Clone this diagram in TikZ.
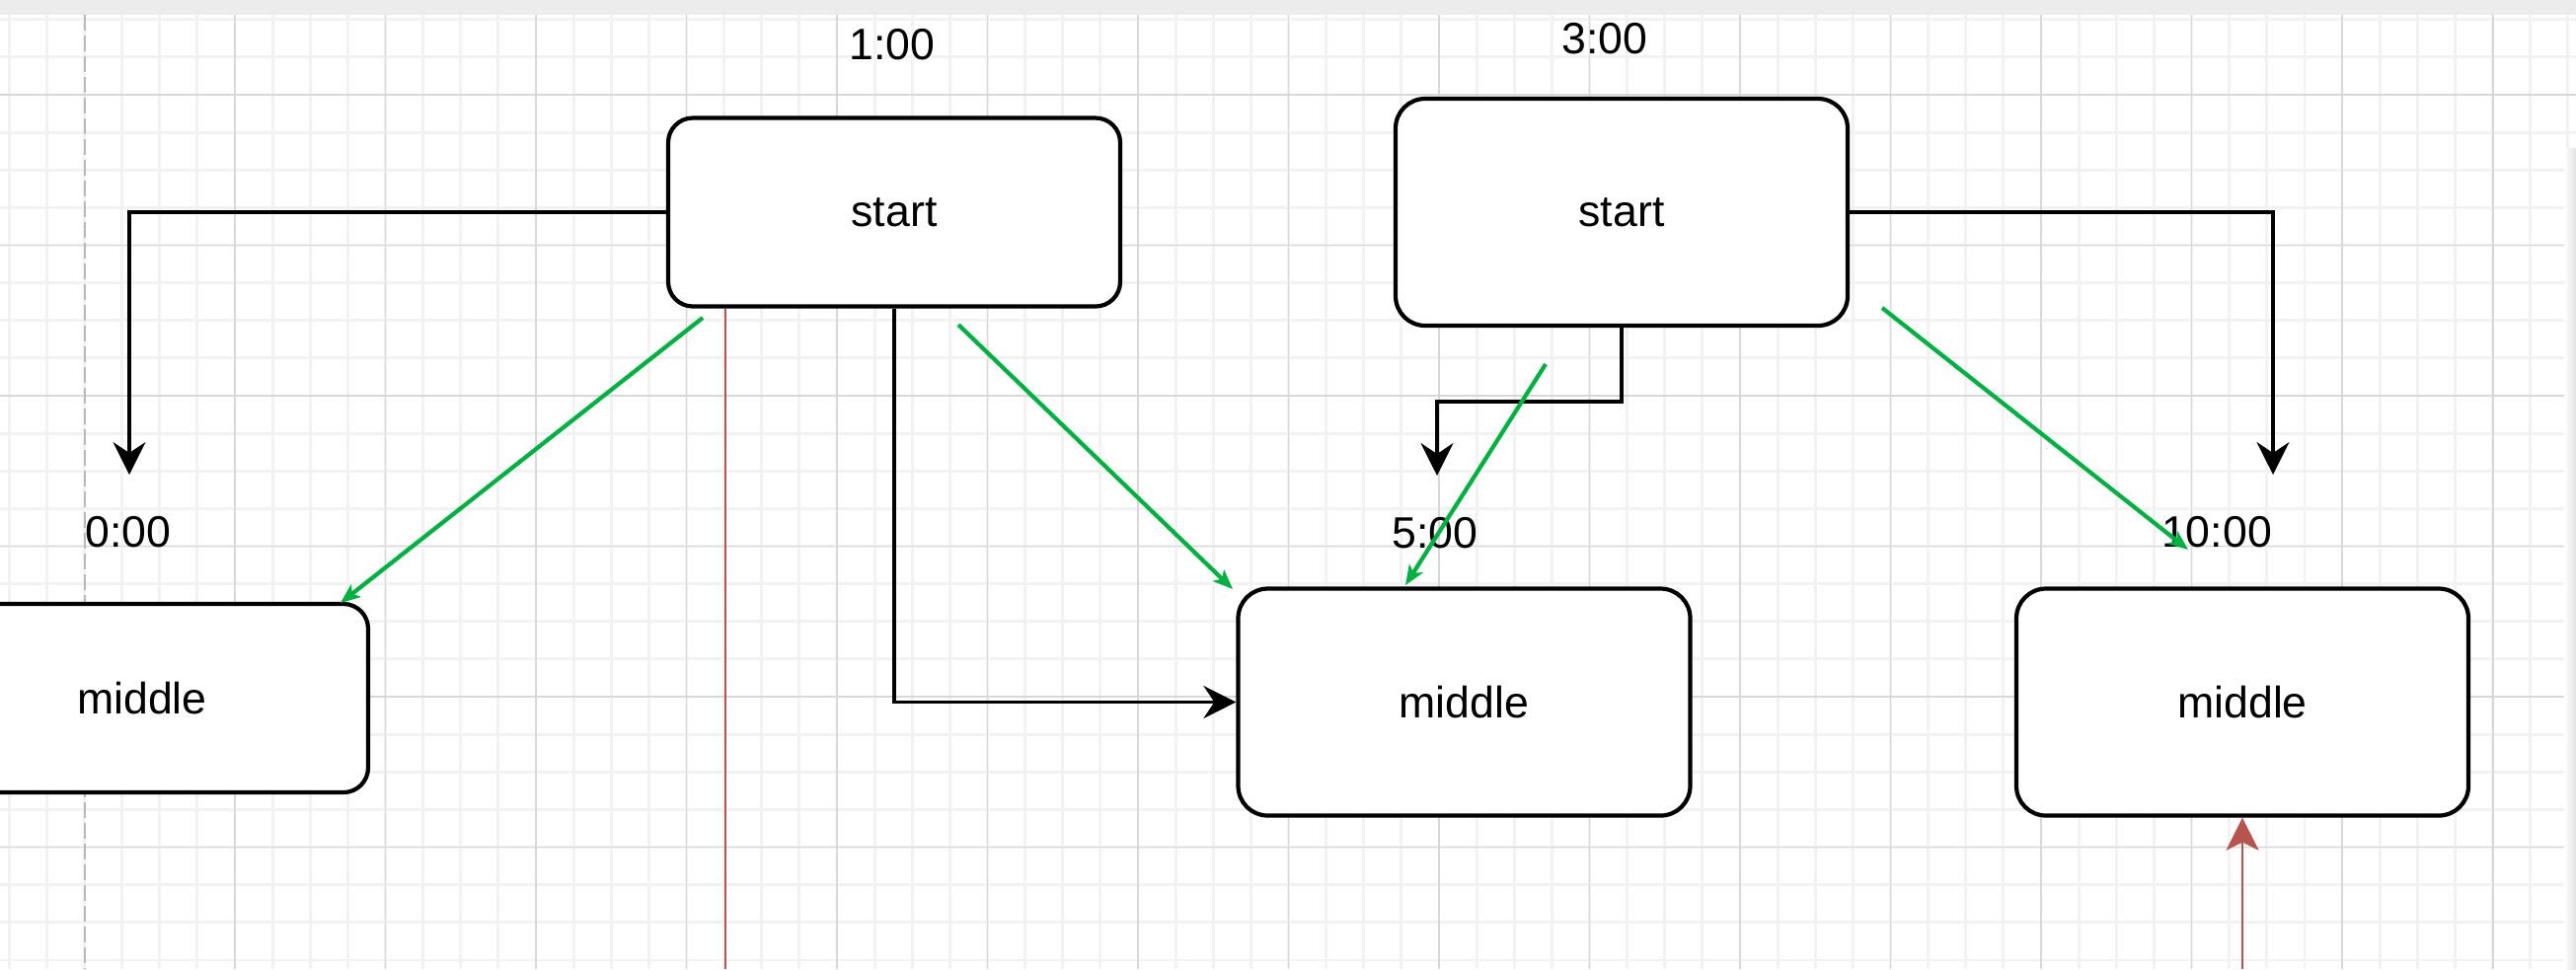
\documentclass[tikz,border=0pt]{standalone}
\usepackage{fontspec}
\setmainfont{Liberation Sans}
\usepackage{tikz}
\usetikzlibrary{arrows.meta,positioning,calc}
\definecolor{flowgreen}{RGB}{0,178,64}
\definecolor{flowred}{RGB}{184,84,80}
\definecolor{gridmin}{RGB}{242,242,242}
\definecolor{gridmaj}{RGB}{216,216,216}
\definecolor{topbar}{RGB}{236,236,236}

\begin{document}
\begin{tikzpicture}[
    x=0.1mm, y=-0.1mm,
    font=\fontsize{12.7}{15}\selectfont,
    box/.style={draw,line width=1.2pt,rounded corners=2.5mm,fill=white,
                minimum width=45.8mm,minimum height=19.1mm,inner sep=0pt},
    tall/.style={box,rounded corners=3mm,minimum height=23mm},
    tm/.style={inner sep=1pt},
    flow/.style={line width=1pt,-{Stealth[length=3.3mm,width=3.3mm,inset=1.1mm]}},
    jump/.style={flowgreen,line width=1.2pt,-{Stealth[length=2mm,width=1.6mm,inset=0.5mm]}},
    redln/.style={flowred,line width=0.8pt},
    redar/.style={redln,-{Stealth[length=3.3mm,width=3.3mm,inset=0.8mm]}},
  ]

  % canvas and grid
  \useasboundingbox (0,0) rectangle (2610,982);
  \clip (0,0) rectangle (2610,982);
  \fill[white] (0,0) rectangle (2610,982);
  \foreach \i in {0,...,68}
    \draw[gridmin,line width=0.8pt] ({9.25+38.125*\i},15) -- ({9.25+38.125*\i},982);
  \foreach \j in {0,...,25}
    \draw[gridmin,line width=0.8pt] (0,{19.75+38.125*\j}) -- (2610,{19.75+38.125*\j});
  \foreach \i in {0,...,15}
    \draw[gridmaj,line width=0.55pt] ({238+152.5*\i},15) -- ({238+152.5*\i},982);
  \foreach \j in {0,...,5}
    \draw[gridmaj,line width=0.55pt] (0,{96+152.5*\j}) -- (2610,{96+152.5*\j});
  \fill[topbar] (0,0) rectangle (2610,15);
  \shade[left color=white,right color=gray!22] (2598,150) rectangle (2610,982);
  \draw[gray!55,line width=0.7pt,dash pattern=on 1.6mm off 0.5mm] (86,15) -- (86,982);

  % red time markers
  \coordinate (r1) at (735,982);
  \coordinate (r2) at (2272,982);

  % states
  \node[box]  (start1) at (906,215)       {start};
  \node[tall] (start2) at (1643,215)      {start};
  \node[box]  (mid0)   at (144,707.5)     {middle};
  \node[tall] (mid5)   at (1483.5,711.5)  {middle};
  \node[tall] (mid10)  at (2272,711.5)    {middle};

  % times
  \node[tm] (t1)  at (904,45)   {1:00};
  \node[tm] (t3)  at (1626,39)  {3:00};
  \node[tm] (t0)  at (130,539)  {0:00};
  \node[tm] (t5)  at (1454,540) {5:00};
  \node[tm] (t10) at (2246,539) {10:00};

  % black edges
  \coordinate (e0)  at (131,481);
  \coordinate (k5)  at (1456,407);
  \coordinate (e5)  at (1456,482);
  \coordinate (e10) at (2303,481);
  \draw[flow] (start1.west) -| (e0);
  \draw[flow] (start1.south) |- (mid5.west);
  \draw[flow] (start2.south) |- (k5) -- (e5);
  \draw[flow] (start2.east) -| (e10);

  % red
  \draw[redln] (start1.south -| r1) -- (r1);
  \draw[redar] (r2) -- (mid10.south);

  % green jumps
  \coordinate (g1a) at (712,322);  \coordinate (g1b) at (345,611);
  \coordinate (g2a) at (971,329);  \coordinate (g2b) at (1249,597);
  \coordinate (g3a) at (1566,369); \coordinate (g3b) at (1424,593);
  \coordinate (g4a) at (1907,312); \coordinate (g4b) at (2217,557);
  \foreach \a/\b in {g1a/g1b,g2a/g2b,g3a/g3b,g4a/g4b}
    \draw[jump] (\a) -- (\b);

\end{tikzpicture}
\end{document}
